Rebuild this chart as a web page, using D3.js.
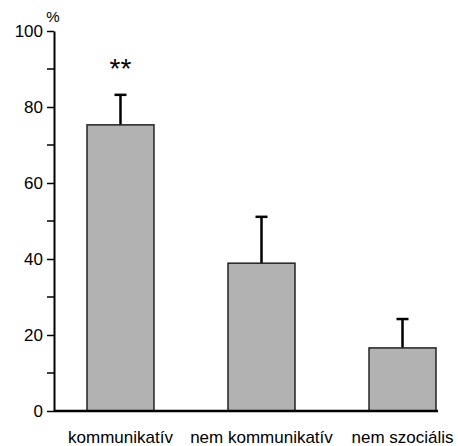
<!DOCTYPE html>
<html>
<head>
<meta charset="utf-8">
<script src="https://cdn.jsdelivr.net/npm/d3@7"></script>
<style>
  body { margin: 0; background: #fff; }
  text { font-family: "Liberation Sans", Arial, sans-serif; fill: #000; }
</style>
</head>
<body>
<div id="chart"></div>
<script>
// Data
const categories = ['kommunikatív', 'nem kommunikatív', 'nem szociális'];
const means = [75.3, 38.9, 16.6];
const errors = [7.9, 12.2, 7.6];
const significance = ['**', '', ''];
const yTicks = [0, 20, 40, 60, 80, 100];
const yMinorTicks = [10, 30, 50, 70, 90];

const width = 458;
const height = 446;
const margin = { top: 31, right: 20, bottom: 35, left: 54 };

const svg = d3.select('#chart')
  .append('svg')
  .attr('width', width)
  .attr('height', height);

// scales
const y = d3.scaleLinear()
  .domain([0, 100])
  .range([height - margin.bottom, margin.top]);

const x = d3.scaleBand()
  .domain(categories)
  .range([margin.left, 469])
  .paddingInner(0.525)
  .paddingOuter(0.234);

const axisEnd = 438;

// y axis
const yAxis = svg.append('g')
  .attr('transform', `translate(${margin.left},0)`)
  .call(d3.axisLeft(y).tickValues(yTicks).tickSize(7).tickPadding(4).tickSizeOuter(0));
yAxis.select('.domain').attr('stroke-width', 2);
yAxis.selectAll('.tick line').attr('stroke-width', 1.5);
yAxis.selectAll('.tick text')
  .style('font-size', '17px')
  .attr('fill', '#000');

svg.append('g')
  .selectAll('line')
  .data(yMinorTicks)
  .join('line')
  .attr('x1', margin.left - 7)
  .attr('x2', margin.left)
  .attr('y1', d => y(d))
  .attr('y2', d => y(d))
  .attr('stroke', '#000')
  .attr('stroke-width', 1.5);

// percent label
svg.append('text')
  .attr('x', margin.left - 1)
  .attr('y', 22)
  .attr('text-anchor', 'middle')
  .style('font-size', '15px')
  .text('%');

// bars
const bars = svg.append('g');
bars.selectAll('line.err')
  .data(categories)
  .join('line')
  .attr('class', 'err')
  .attr('x1', d => x(d) + x.bandwidth() / 2)
  .attr('x2', d => x(d) + x.bandwidth() / 2)
  .attr('y1', (d, i) => y(means[i]))
  .attr('y2', (d, i) => y(means[i] + errors[i]))
  .attr('stroke', '#000')
  .attr('stroke-width', 2.5);

bars.selectAll('line.cap')
  .data(categories)
  .join('line')
  .attr('class', 'cap')
  .attr('x1', d => x(d) + x.bandwidth() / 2 - 6)
  .attr('x2', d => x(d) + x.bandwidth() / 2 + 6)
  .attr('y1', (d, i) => y(means[i] + errors[i]))
  .attr('y2', (d, i) => y(means[i] + errors[i]))
  .attr('stroke', '#000')
  .attr('stroke-width', 2.5);

bars.selectAll('rect')
  .data(categories)
  .join('rect')
  .attr('x', d => x(d))
  .attr('y', (d, i) => y(means[i]))
  .attr('width', x.bandwidth())
  .attr('height', (d, i) => y(0) - y(means[i]))
  .attr('fill', '#b2b2b2')
  .attr('stroke', '#222')
  .attr('stroke-width', 1.5);

// x axis baseline
svg.append('line')
  .attr('x1', margin.left)
  .attr('x2', axisEnd)
  .attr('y1', y(0))
  .attr('y2', y(0))
  .attr('stroke', '#000')
  .attr('stroke-width', 2.5);

// category labels
svg.append('g')
  .selectAll('text')
  .data(categories)
  .join('text')
  .attr('x', d => x(d) + x.bandwidth() / 2)
  .attr('y', 443)
  .attr('text-anchor', 'middle')
  .style('font-size', '17px')
  .text(d => d);

// significance marks
svg.append('g')
  .selectAll('text')
  .data(categories)
  .join('text')
  .attr('x', d => x(d) + x.bandwidth() / 2)
  .attr('y', 78)
  .attr('text-anchor', 'middle')
  .style('font-size', '28px')
  .text((d, i) => significance[i]);
</script>
</body>
</html>
